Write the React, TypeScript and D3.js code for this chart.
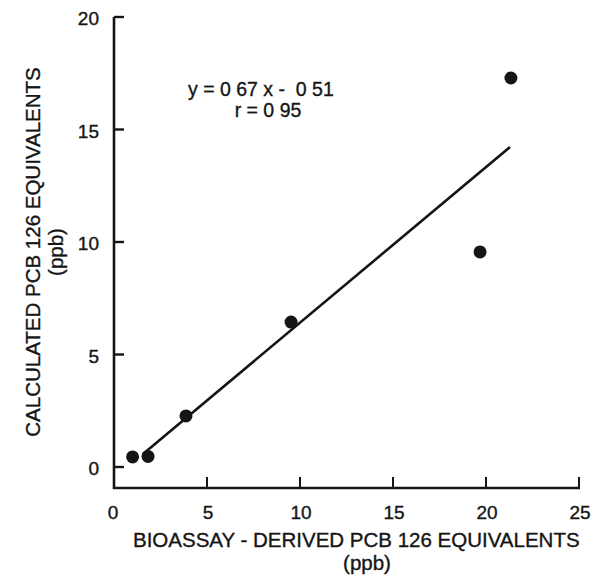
import React from "react";
import * as d3 from "d3";

const xTicks = [5, 10, 15, 20, 25];
const xTickLabels = ["0", "5", "10", "15", "20", "25"];
const xLabelValues = [0, 5, 10, 15, 20, 25];
const yTicks = [0, 5, 10, 15, 20];
const bioassay = [1.0, 1.83, 3.87, 9.52, 19.68, 21.34];
const calculated = [0.45, 0.47, 2.27, 6.44, 9.56, 17.29];
const fitX = [1.56, 21.29];
const fitY = [0.58, 14.22];
const equationLines = ["y = 0 67 x -  0 51", "r = 0 95"];
const xTitle = "BIOASSAY - DERIVED PCB 126 EQUIVALENTS";
const yTitle = "CALCULATED PCB 126 EQUIVALENTS";
const unitLabel = "(ppb)";

const W = 592;
const H = 576;
const FONT = "'Liberation Sans', Arial, Helvetica, sans-serif";
const INK = "#151515";

export default function App() {
  const x = d3.scaleLinear().domain([0, 25]).range([114, 579]);
  const y = d3.scaleLinear().domain([0, 20]).range([467, 17]);
  const axisBottom = 488;
  const line = d3
    .line<number>()
    .x((d) => x(d))
    .y((_, i) => y(fitY[i]));
  const textStyle = { stroke: INK, strokeWidth: 0.35 } as React.CSSProperties;

  return (
    <svg
      width={W}
      height={H}
      style={{ position: "absolute", left: 0, top: 0, background: "#fff" }}
      fontFamily={FONT}
    >
      <rect width={W} height={H} fill="#fff" />
      {/* axes */}
      <line x1={x(0)} x2={x(0)} y1={y(20)} y2={axisBottom + 1} stroke={INK} strokeWidth={2.6} />
      <line x1={x(0) - 1} x2={x(25) + 1} y1={axisBottom} y2={axisBottom} stroke={INK} strokeWidth={2.6} />
      {yTicks.map((t) => (
        <line key={"yt" + t} x1={x(0)} x2={x(0) + 10} y1={y(t)} y2={y(t)} stroke={INK} strokeWidth={2.4} />
      ))}
      {xTicks.map((t) => (
        <line key={"xt" + t} x1={x(t)} x2={x(t)} y1={axisBottom} y2={axisBottom - 11} stroke={INK} strokeWidth={2} />
      ))}
      {/* y tick labels */}
      {yTicks.map((t) => (
        <text key={"yl" + t} x={99} y={y(t) + 8} fontSize={19} textAnchor="end" fill={INK} style={textStyle}>
          {String(t)}
        </text>
      ))}
      {/* x tick labels */}
      {xLabelValues.map((t, i) => (
        <text key={"xl" + t} x={x(t) + (t === 0 ? -1 : 1)} y={519} fontSize={19} textAnchor="middle" fill={INK} style={textStyle}>
          {xTickLabels[i]}
        </text>
      ))}
      {/* fit line */}
      <path d={line(fitX) || ""} fill="none" stroke={INK} strokeWidth={2.6} />
      {/* points */}
      {bioassay.map((b, i) => (
        <circle key={"p" + i} cx={x(b)} cy={y(calculated[i])} r={6.5} fill={INK} />
      ))}
      {/* equation */}
      <text x={188} y={96} fontSize={19.5} textAnchor="start" fill={INK} style={{ ...textStyle, whiteSpace: "pre" }}>
        {equationLines[0]}
      </text>
      <text x={268} y={117} fontSize={19.5} textAnchor="middle" fill={INK} style={{ ...textStyle, whiteSpace: "pre" }}>
        {equationLines[1]}
      </text>
      {/* x title */}
      <text x={133} y={547} fontSize={20.5} textAnchor="start" fill={INK} style={textStyle}>
        {xTitle}
      </text>
      <text x={367} y={570} fontSize={20.5} textAnchor="middle" fill={INK} style={textStyle}>
        {unitLabel}
      </text>
      {/* y title */}
      <text transform={`translate(40, 252) rotate(-90)`} fontSize={20.5} textAnchor="middle" fill={INK} style={textStyle}>
        {yTitle}
      </text>
      <text transform={`translate(63, 252) rotate(-90)`} fontSize={20.5} textAnchor="middle" fill={INK} style={textStyle}>
        {unitLabel}
      </text>
    </svg>
  );
}
